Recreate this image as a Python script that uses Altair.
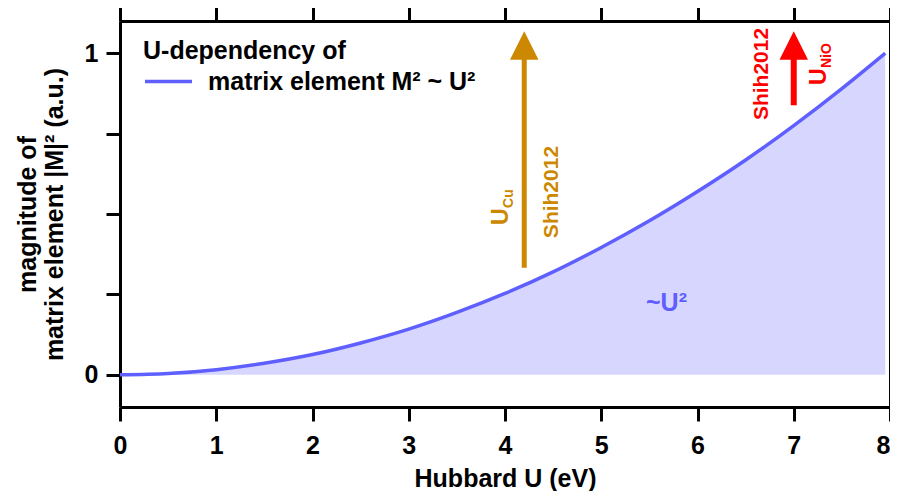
import altair as alt
import pandas as pd

# ---- data ----
hubbard_u = [0, 0.5, 1, 1.5, 2, 2.5, 3, 3.5, 4, 4.5, 5, 5.5, 6, 6.5, 7, 7.5, 7.95]
m2_values = [0, 0.004, 0.016, 0.036, 0.063, 0.099, 0.142, 0.194, 0.253, 0.320,
             0.396, 0.479, 0.570, 0.668, 0.775, 0.890, 1.0]
series_label = "matrix element M² ~ U²"
legend_title = "U-dependency of"

x_ticks = [0, 1, 2, 3, 4, 5, 6, 7, 8]
y_ticks = [0, 0.25, 0.5, 0.75, 1]

# arrows: U position, shaft start, shaft end, head centre
cu_arrow = {"U": [4.2], "y0": [0.333], "y1": [0.985], "yh": [1.024]}
nio_arrow = {"U": [7.0], "y0": [0.838], "y1": [0.985], "yh": [1.024]}

# annotation texts
cu_u = {"U": [4.03], "v": [0.466], "t": ["U"]}
cu_sub = {"U": [4.03], "v": [0.466], "t": ["Cu"]}
cu_ref = {"U": [4.55], "v": [0.425], "t": ["Shih2012"]}
nio_u = {"U": [7.335], "v": [0.901], "t": ["U"]}
nio_sub = {"U": [7.335], "v": [0.901], "t": ["NiO"]}
nio_ref = {"U": [6.732], "v": [0.792], "t": ["Shih2012"]}
u2_label = {"U": [5.678], "v": [0.222], "t": ["~U²"]}

FONT = "Liberation Sans"
BLUE = "#5f5fff"
FILL = "#d6d6ff"
ORANGE = "#cc8800"
RED = "#ff0000"

df = pd.DataFrame({"U": hubbard_u, "M2": m2_values, "series": [series_label] * len(hubbard_u)})

xs = alt.Scale(domain=[0, 8], nice=False, zero=False)
ys = alt.Scale(domain=[-0.1, 1.1], nice=False, zero=False)

common_axis = dict(domainColor="black", domainWidth=3, tickColor="black", tickWidth=3,
                   tickSize=14, grid=False, labelFont=FONT, labelFontSize=25,
                   labelFontWeight="bold", labelColor="black", titleFont=FONT,
                   titleFontSize=25, titleFontWeight="bold", titleColor="black")

bottom_axis = alt.Axis(orient="bottom", values=x_ticks, title="Hubbard U (eV)",
                       labelPadding=12, titlePadding=8, labelFlush=False,
                       labelAlign={"condition": {"test": "datum.value == 8", "value": "right"},
                                   "value": "center"},
                       **common_axis)
top_axis = alt.Axis(orient="top", values=x_ticks, labels=False, title=None, **common_axis)
left_axis = alt.Axis(orient="left", values=y_ticks,
                     labelExpr="datum.value == 0 ? '0' : datum.value == 1 ? '1' : ''",
                     title=["magnitude of", "matrix element |M|² (a.u.)"],
                     labelPadding=8, titlePadding=17, titleLineHeight=27, **common_axis)
right_axis = alt.Axis(orient="right", values=y_ticks, labels=False, title=None, **common_axis)

area = alt.Chart(df).mark_area(color=FILL, interpolate="monotone").encode(
    x=alt.X("U:Q", scale=xs, axis=bottom_axis),
    y=alt.Y("M2:Q", scale=ys, axis=left_axis),
)

line = alt.Chart(df).mark_line(strokeWidth=3.5, interpolate="monotone").encode(
    x=alt.X("U:Q", scale=xs, axis=top_axis),
    y=alt.Y("M2:Q", scale=ys, axis=right_axis),
    color=alt.Color("series:N", scale=alt.Scale(domain=[series_label], range=[BLUE]),
                    legend=alt.Legend(orient="none", legendX=23, legendY=18,
                                      title=legend_title, titleFont=FONT, titleFontSize=25,
                                      titleFontWeight="bold", titleColor="black",
                                      titlePadding=-8, titleLimit=0, labelLimit=0,
                                      labelFont=FONT, labelFontSize=25,
                                      labelFontWeight="bold", labelColor="black",
                                      symbolType="stroke", symbolStrokeWidth=3.5,
                                      symbolSize=2209, labelOffset=14, padding=0)),
)


def arrow(d, color, width):
    a = pd.DataFrame(d)
    shaft = alt.Chart(a).mark_rule(color=color, strokeWidth=width).encode(
        x=alt.X("U:Q", scale=xs, axis=None),
        y=alt.Y("y0:Q", scale=ys, axis=None),
        y2="y1:Q",
    )
    head = alt.Chart(a).mark_point(shape="M0,-1L1,1L-1,1Z", filled=True, opacity=1,
                                   color=color, size=812, strokeWidth=0).encode(
        x=alt.X("U:Q", scale=xs, axis=None),
        y=alt.Y("yh:Q", scale=ys, axis=None),
    )
    return [shaft, head]


def label(d, color, size, angle=0, align="left", baseline="alphabetic", dx=0, dy=0):
    return alt.Chart(pd.DataFrame(d)).mark_text(
        font=FONT, fontWeight="bold", fontSize=size, color=color, angle=angle,
        align=align, baseline=baseline, dx=dx, dy=dy).encode(
        x=alt.X("U:Q", scale=xs, axis=None),
        y=alt.Y("v:Q", scale=ys, axis=None),
        text="t:N",
    )


layers = [area, line]
layers += arrow(cu_arrow, ORANGE, 5)
layers += arrow(nio_arrow, RED, 6)
layers += [
    label(cu_u, ORANGE, 23, angle=270),
    label(cu_sub, ORANGE, 14, angle=270, dx=17, dy=5),
    label(cu_ref, ORANGE, 21, angle=270),
    label(nio_u, RED, 23, angle=270),
    label(nio_sub, RED, 14, angle=270, dx=17, dy=5),
    label(nio_ref, RED, 21, angle=270),
    label(u2_label, BLUE, 25, align="center", baseline="middle"),
]

chart = alt.layer(*layers).resolve_axis(x="independent", y="independent").properties(
    width=770, height=386,
    autosize=alt.AutoSizeParams(type="none"),
    padding={"left": 112, "top": 13, "right": 0, "bottom": 84},
).configure_view(stroke=None).configure(background="white")

chart.save("out.html", embed_options={"renderer": "svg", "actions": False})
